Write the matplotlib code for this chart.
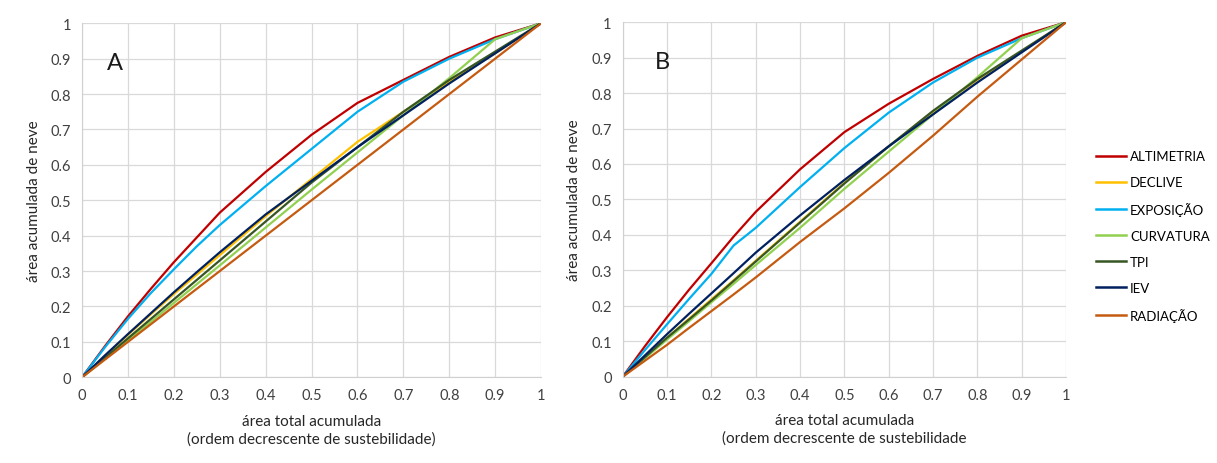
import matplotlib
matplotlib.use("Agg")
import matplotlib.pyplot as plt
from matplotlib.lines import Line2D

# ---------------- data ----------------
x_vals = [0, 0.05, 0.1, 0.15, 0.2, 0.25, 0.3, 0.4, 0.5, 0.6, 0.7, 0.8, 0.9, 1]
series_names = ["ALTIMETRIA", "DECLIVE", "EXPOSIÇÃO", "CURVATURA", "TPI", "IEV", "RADIAÇÃO"]
series_colors = ["#C00000", "#FFC000", "#00B0F0", "#92D050", "#375623", "#002060", "#C55A11"]

# Panel A
alt_a = [0, 0.088, 0.172, 0.25, 0.325, 0.395, 0.465, 0.58, 0.685, 0.775, 0.84, 0.905, 0.96, 1]
dec_a = [0, 0.06, 0.12, 0.178, 0.235, 0.29, 0.345, 0.455, 0.56, 0.665, 0.75, 0.835, 0.915, 1]
exp_a = [0, 0.085, 0.165, 0.238, 0.305, 0.37, 0.43, 0.54, 0.645, 0.75, 0.835, 0.9, 0.955, 1]
cur_a = [0, 0.052, 0.105, 0.157, 0.21, 0.263, 0.316, 0.423, 0.53, 0.635, 0.74, 0.845, 0.955, 1]
tpi_a = [0, 0.055, 0.11, 0.165, 0.22, 0.275, 0.33, 0.44, 0.55, 0.65, 0.75, 0.84, 0.92, 1]
iev_a = [0, 0.062, 0.122, 0.181, 0.24, 0.297, 0.353, 0.46, 0.555, 0.65, 0.74, 0.83, 0.915, 1]
rad_a = [0, 0.05, 0.1, 0.15, 0.2, 0.25, 0.3, 0.4, 0.5, 0.6, 0.7, 0.8, 0.9, 1]

# Panel B
alt_b = [0, 0.086, 0.168, 0.246, 0.32, 0.395, 0.465, 0.585, 0.69, 0.77, 0.84, 0.905, 0.962, 1]
dec_b = [0, 0.055, 0.11, 0.164, 0.218, 0.272, 0.327, 0.437, 0.547, 0.65, 0.748, 0.838, 0.918, 1]
exp_b = [0, 0.075, 0.148, 0.22, 0.29, 0.37, 0.42, 0.535, 0.645, 0.745, 0.83, 0.9, 0.955, 1]
cur_b = [0, 0.052, 0.105, 0.157, 0.21, 0.262, 0.315, 0.42, 0.53, 0.635, 0.74, 0.845, 0.955, 1]
tpi_b = [0, 0.055, 0.11, 0.162, 0.215, 0.27, 0.325, 0.435, 0.545, 0.65, 0.75, 0.84, 0.92, 1]
iev_b = [0, 0.06, 0.12, 0.178, 0.235, 0.292, 0.35, 0.455, 0.555, 0.65, 0.74, 0.83, 0.915, 1]
rad_b = [0, 0.045, 0.09, 0.138, 0.185, 0.232, 0.28, 0.38, 0.475, 0.575, 0.68, 0.79, 0.895, 1]

panel_a = [alt_a, dec_a, exp_a, cur_a, tpi_a, iev_a, rad_a]
panel_b = [alt_b, dec_b, exp_b, cur_b, tpi_b, iev_b, rad_b]

tick_vals = [0, 0.1, 0.2, 0.3, 0.4, 0.5, 0.6, 0.7, 0.8, 0.9, 1]
tick_labels = ["0", "0.1", "0.2", "0.3", "0.4", "0.5", "0.6", "0.7", "0.8", "0.9", "1"]

ylabel = "área acumulada de neve"
xlabel_a = "área total acumulada\n(ordem decrescente de sustebilidade)"
xlabel_b = "área total acumulada\n(ordem decrescente de sustebilidade"

# ---------------- plot ----------------
plt.rcParams['font.family'] = ['Lato', 'DejaVu Sans']

fig = plt.figure(figsize=(12.17, 4.64), dpi=100)
ax_a = fig.add_axes([0.0674, 0.1847, 0.3772, 0.7630])
ax_b = fig.add_axes([0.5117, 0.1860, 0.3643, 0.7640])

def style(ax, data, letter, lx, xlabel):
    for vals, name, col in zip(data, series_names, series_colors):
        ax.plot(x_vals, vals, color=col, lw=1.6, label=name,
                solid_capstyle='round', solid_joinstyle='round')
    ax.set_xlim(0, 1)
    ax.set_ylim(0, 1)
    ax.set_xticks(tick_vals)
    ax.set_xticklabels(tick_labels)
    ax.set_yticks(tick_vals)
    ax.set_yticklabels(tick_labels)
    ax.tick_params(length=0, labelsize=10.5, colors="#404040", pad=8)
    ax.grid(True, color="#d9d9d9", lw=0.9)
    ax.set_axisbelow(True)
    for s in ["top", "right"]:
        ax.spines[s].set_visible(False)
    for s in ["left", "bottom"]:
        ax.spines[s].set_color("#d0d0d0")
    ax.set_ylabel(ylabel, fontsize=11, color="#262626", labelpad=7)
    ax.set_xlabel(xlabel, fontsize=11, color="#262626", labelpad=8, linespacing=1.3)
    ax.text(lx, 0.89, letter, transform=ax.transAxes, fontsize=17,
            color="#1a1a1a", va="center", ha="left")

style(ax_a, panel_a, "A", 0.055, xlabel_a)
style(ax_b, panel_b, "B", 0.072, xlabel_b)

handles = [Line2D([0], [0], color=c, lw=1.8) for c in series_colors]
fig.legend(handles, series_names, loc="upper left", bbox_to_anchor=(0.896, 0.685),
           frameon=False, fontsize=9.5, handlelength=2.3, handletextpad=0.3,
           labelspacing=1.05, borderaxespad=0)

fig.savefig("out.png", dpi=100)
